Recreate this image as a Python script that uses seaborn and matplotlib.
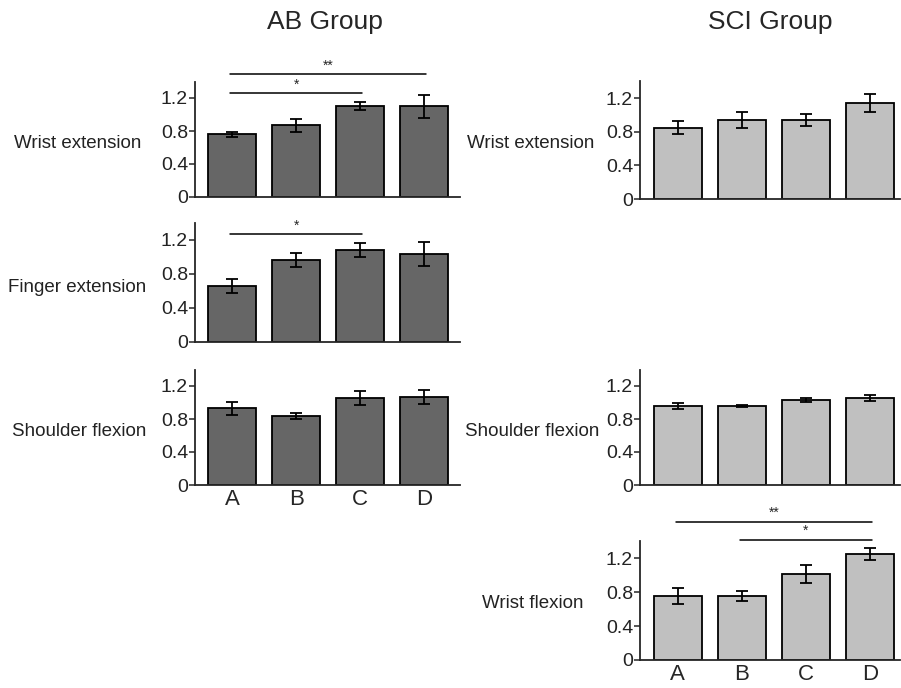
import numpy as np
import pandas as pd
import matplotlib
matplotlib.use("Agg")
import matplotlib.pyplot as plt
import seaborn as sns

sns.set_style("ticks")
plt.rcParams['font.family'] = ['Liberation Sans', 'DejaVu Sans']

conditions = ["A", "B", "C", "D"]

# AB group means / error bars
ab_wrist_ext = [0.76, 0.87, 1.10, 1.10]
ab_wrist_ext_err = [0.03, 0.08, 0.05, 0.14]
ab_finger_ext = [0.66, 0.965, 1.08, 1.035]
ab_finger_ext_err = [0.08, 0.08, 0.085, 0.145]
ab_shoulder_flex = [0.93, 0.835, 1.05, 1.07]
ab_shoulder_flex_err = [0.08, 0.04, 0.085, 0.085]

# SCI group means / error bars
sci_wrist_ext = [0.85, 0.94, 0.94, 1.14]
sci_wrist_ext_err = [0.08, 0.095, 0.075, 0.11]
sci_shoulder_flex = [0.96, 0.96, 1.03, 1.05]
sci_shoulder_flex_err = [0.04, 0.01, 0.025, 0.035]
sci_wrist_flex = [0.755, 0.755, 1.015, 1.25]
sci_wrist_flex_err = [0.095, 0.055, 0.11, 0.075]

# significance brackets: (from, to, height, label)
ab_wrist_ext_sig = [(0, 3, 1.49, "**"), (0, 2, 1.26, "*")]
ab_finger_ext_sig = [(0, 2, 1.27, "*")]
sci_wrist_flex_sig = [(0, 3, 1.63, "**"), (1, 3, 1.42, "*")]

ab_color = "#666666"
sci_color = "#c0c0c0"

W, H = 901, 688
fig = plt.figure(figsize=(W / 100, H / 100), dpi=100)


def px_axes(x0, x1, y_zero, px_per_unit):
    top = y_zero - 1.4 * px_per_unit
    return fig.add_axes([x0 / W, 1 - y_zero / H, (x1 - x0) / W, (y_zero - top) / H])


def panel(ax, vals, errs, color, xlim, sig=None, show_x=False):
    df = pd.DataFrame({"cond": conditions, "val": vals})
    sns.barplot(data=df, x="cond", y="val", color=color, edgecolor="black",
                linewidth=1.3, width=0.75, saturation=1, ax=ax, errorbar=None)
    ax.errorbar(range(len(vals)), vals, yerr=errs, fmt="none", ecolor="black",
                elinewidth=1.3, capsize=4, capthick=1.3)
    ax.set_ylim(0, 1.4)
    ax.set_xlim(*xlim)
    ax.set_yticks([0, 0.4, 0.8, 1.2])
    ax.set_yticklabels(["0", "0.4", "0.8", "1.2"], fontsize=14, color="#222222")
    ax.set_xlabel("")
    ax.set_ylabel("")
    for s in ["top", "right"]:
        ax.spines[s].set_visible(False)
    for s in ["left", "bottom"]:
        ax.spines[s].set_linewidth(1.3)
    ax.tick_params(axis="y", length=4, width=1.1, pad=1)
    if show_x:
        ax.tick_params(axis="x", length=0, pad=3, labelsize=16)
    else:
        ax.tick_params(axis="x", length=0, labelbottom=False)
    if sig:
        for a, b, h, lab in sig:
            ax.plot([a - 0.03, b + 0.03], [h, h], color="black", lw=1.1, clip_on=False)
            ax.text((a + b) / 2, h + 0.02, lab, ha="center", va="bottom",
                    fontsize=10, clip_on=False)


left_xlim = (-0.58, 3.56)
right_xlim = (-0.59, 3.47)

ax1 = px_axes(195, 460, 197, 82.5)
panel(ax1, ab_wrist_ext, ab_wrist_ext_err, ab_color, left_xlim, ab_wrist_ext_sig)
ax2 = px_axes(195, 460, 342, 85)
panel(ax2, ab_finger_ext, ab_finger_ext_err, ab_color, left_xlim, ab_finger_ext_sig)
ax3 = px_axes(195, 460, 485, 82.5)
panel(ax3, ab_shoulder_flex, ab_shoulder_flex_err, ab_color, left_xlim, show_x=True)

ax4 = px_axes(640, 900, 199, 84)
panel(ax4, sci_wrist_ext, sci_wrist_ext_err, sci_color, right_xlim)
ax5 = px_axes(640, 900, 485, 82.5)
panel(ax5, sci_shoulder_flex, sci_shoulder_flex_err, sci_color, right_xlim)
ax6 = px_axes(640, 900, 660, 84.7)
panel(ax6, sci_wrist_flex, sci_wrist_flex_err, sci_color, right_xlim,
      sci_wrist_flex_sig, show_x=True)

# group titles
fig.text(325 / W, 1 - 22 / H, "AB Group", ha="center", va="center", fontsize=19)
fig.text(770 / W, 1 - 22 / H, "SCI Group", ha="center", va="center", fontsize=19)

# row labels
row_labels = [
    (14, 143, "Wrist extension"),
    (8, 287, "Finger extension"),
    (12, 431, "Shoulder flexion"),
    (467, 143, "Wrist extension"),
    (465, 432, "Shoulder flexion"),
    (482, 603, "Wrist flexion"),
]
for x, y, t in row_labels:
    fig.text(x / W, 1 - y / H, t, ha="left", va="center", fontsize=13.5, color="#222222")

fig.savefig("out.png", dpi=100)
